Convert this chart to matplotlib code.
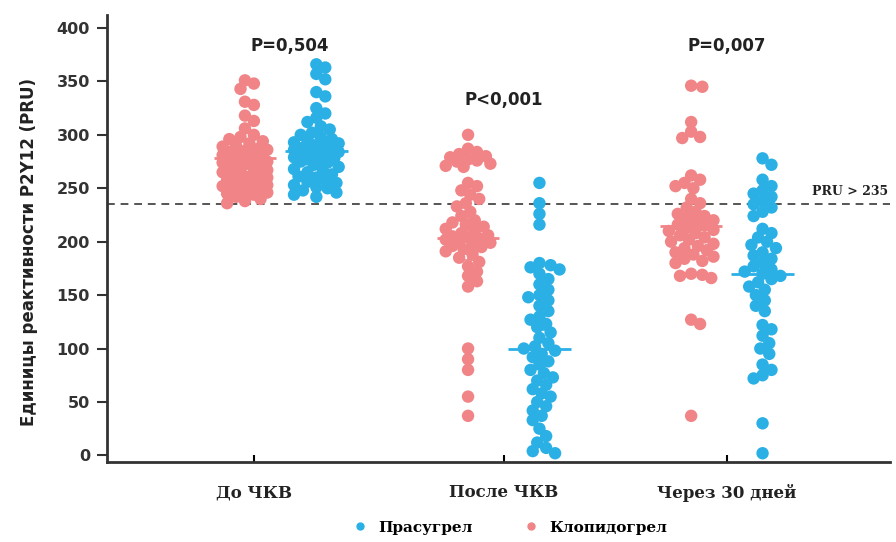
import numpy as np
import matplotlib
matplotlib.use("Agg")
import matplotlib.pyplot as plt
from matplotlib.lines import Line2D

# values (PRU)
groups = ["До ЧКВ", "После ЧКВ", "Через 30 дней"]
p_labels = ["P=0,504", "P<0,001", "P=0,007"]
p_y = [383, 333, 383]

clop_pre = [351, 348, 343, 331, 328, 318, 313, 306, 300, 298, 296, 294, 292, 290, 289,
            287, 286, 285, 284, 283, 282, 281, 280, 279, 278, 277, 276, 275, 274, 273,
            272, 270, 268, 267, 266, 265, 264, 262, 261, 260, 258, 257, 256, 255, 254,
            253, 252, 251, 250, 249, 248, 247, 246, 245, 244, 242, 240, 238, 236]
pras_pre = [366, 363, 357, 352, 340, 336, 325, 320, 316, 312, 308, 305, 302, 300, 298,
            296, 295, 293, 292, 290, 289, 288, 287, 286, 285, 284, 283, 282, 281, 280,
            279, 278, 277, 276, 275, 274, 272, 270, 268, 266, 265, 263, 261, 260, 258,
            256, 255, 253, 251, 250, 248, 246, 244, 242]
clop_post = [300, 287, 284, 282, 280, 279, 277, 276, 275, 273, 271, 270, 255, 252, 248,
             244, 240, 236, 233, 228, 224, 220, 218, 216, 214, 212, 210, 208, 206, 205,
             204, 203, 202, 200, 199, 198, 196, 195, 193, 191, 188, 185, 181, 177, 172,
             168, 163, 158, 100, 90, 80, 55, 37]
pras_post = [255, 236, 226, 216, 180, 178, 176, 174, 170, 165, 160, 155, 150, 148, 145,
             140, 135, 130, 127, 123, 120, 115, 110, 105, 102, 100, 98, 95, 92, 88, 85,
             80, 77, 73, 70, 66, 62, 58, 55, 50, 46, 42, 37, 33, 25, 18, 12, 7, 4, 2]
clop_30 = [346, 345, 312, 303, 298, 297, 262, 258, 255, 252, 250, 240, 236, 232, 228,
           226, 224, 222, 220, 218, 216, 215, 213, 211, 210, 208, 206, 204, 202, 200,
           198, 196, 194, 192, 190, 188, 186, 184, 182, 180, 170, 169, 168, 166, 127,
           123, 37]
pras_30 = [278, 272, 258, 252, 248, 245, 242, 238, 235, 232, 228, 224, 212, 208, 204,
           200, 197, 194, 190, 187, 184, 180, 177, 174, 172, 170, 168, 165, 162, 158,
           155, 150, 145, 140, 135, 122, 118, 112, 105, 100, 95, 85, 80, 75, 72, 30, 2]

clop_data = [clop_pre, clop_post, clop_30]
pras_data = [pras_pre, pras_post, pras_30]
clop_mean = [278, 203, 215]
pras_mean = [285, 100, 170]
clop_ci = [10, 20, 15]
pras_ci = [10, 17, 17]
threshold = 235

RED = "#F08486"
BLUE = "#2BB0E6"
DARK = "#333333"


def swarm(vals, center, d=0.05, gap=0.85, maxw=0.1, k=0.0048):
    # simple beeswarm, overlap allowed
    order = np.argsort(vals)[::-1]
    xs = np.zeros(len(vals))
    placed = []
    steps = [0.0]
    for i in range(1, 40):
        steps += [i * 0.01, -i * 0.01]
    steps = [s for s in steps if abs(s) <= maxw]
    for idx in order:
        y = vals[idx] * k
        best, bestd = 0.0, -1
        for s in steps:
            near = [np.hypot(s - px, y - py) for px, py in placed if abs(y - py) < d * 2]
            md = min(near) if near else 9
            if md >= gap * d:
                best = s
                break
            if md > bestd:
                best, bestd = s, md
        xs[idx] = center + best
        placed.append((best, y))
    return xs


fig = plt.figure(figsize=(8.96, 5.42), dpi=100)
ax = fig.add_axes([0.119, 0.148, 0.874, 0.824])

off = 0.16
for i in range(3):
    for data, mean, ci, col, sgn in [(clop_data[i], clop_mean[i], clop_ci[i], RED, -1),
                                     (pras_data[i], pras_mean[i], pras_ci[i], BLUE, 1)]:
        c = i + sgn * off
        xs = swarm(np.array(data, float), c)
        ax.scatter(xs, data, s=80, color=col, edgecolors="none", zorder=3)
        ax.hlines(mean, c - 0.14, c + 0.14, color=col, lw=2, zorder=4)
        ax.errorbar(c, mean, yerr=ci, color=col, lw=1.2, capsize=5, capthick=1.2, zorder=4)
    ax.text(i + (0.04 if i == 0 else 0), p_y[i], p_labels[i], ha="center", va="center",
            fontsize=12, fontweight="bold", color="#222222")

ax.axhline(threshold, color="#555555", lw=1.4, ls=(0, (4, 3)), zorder=2)
ax.text(2.725, threshold + 6, "PRU > 235", ha="right", va="bottom", fontsize=9,
        fontweight="bold", family="DejaVu Serif", color="#222222")

ax.set_xlim(-0.78, 2.73)
ax.set_ylim(-6, 412)
ax.set_yticks(np.arange(0, 401, 50))
ax.set_xticks([-0.12, 1, 2])
ax.set_xticklabels(groups, fontsize=12, fontweight="bold", family="DejaVu Serif",
                   color="#222222")
for lab in ax.get_yticklabels():
    lab.set_fontweight("bold")
ax.tick_params(axis="y", direction="out", length=7, width=1.5, labelsize=11.5,
               colors=DARK, pad=5)
ax.tick_params(axis="x", direction="in", length=5, width=1.5, pad=16)
for sp in ["top", "right"]:
    ax.spines[sp].set_visible(False)
for sp in ["left", "bottom"]:
    ax.spines[sp].set_linewidth(2)
    ax.spines[sp].set_color(DARK)

ax.set_ylabel("Единицы реактивности P2Y12 (PRU)", fontsize=12, fontweight="semibold",
              color="#222222")
ax.yaxis.set_label_coords(-0.088, 0.47)

handles = [Line2D([], [], marker="o", ls="none", color=BLUE, markersize=5),
           Line2D([], [], marker="o", ls="none", color=RED, markersize=5)]
fig.legend(handles, ["Прасугрел", "Клопидогрел"], loc="lower center",
           bbox_to_anchor=(0.565, -0.012), ncol=2, frameon=False, handletextpad=0.2,
           columnspacing=2.8, prop={"family": "DejaVu Serif", "weight": "bold", "size": 11})

plt.savefig("out.png", dpi=100)
